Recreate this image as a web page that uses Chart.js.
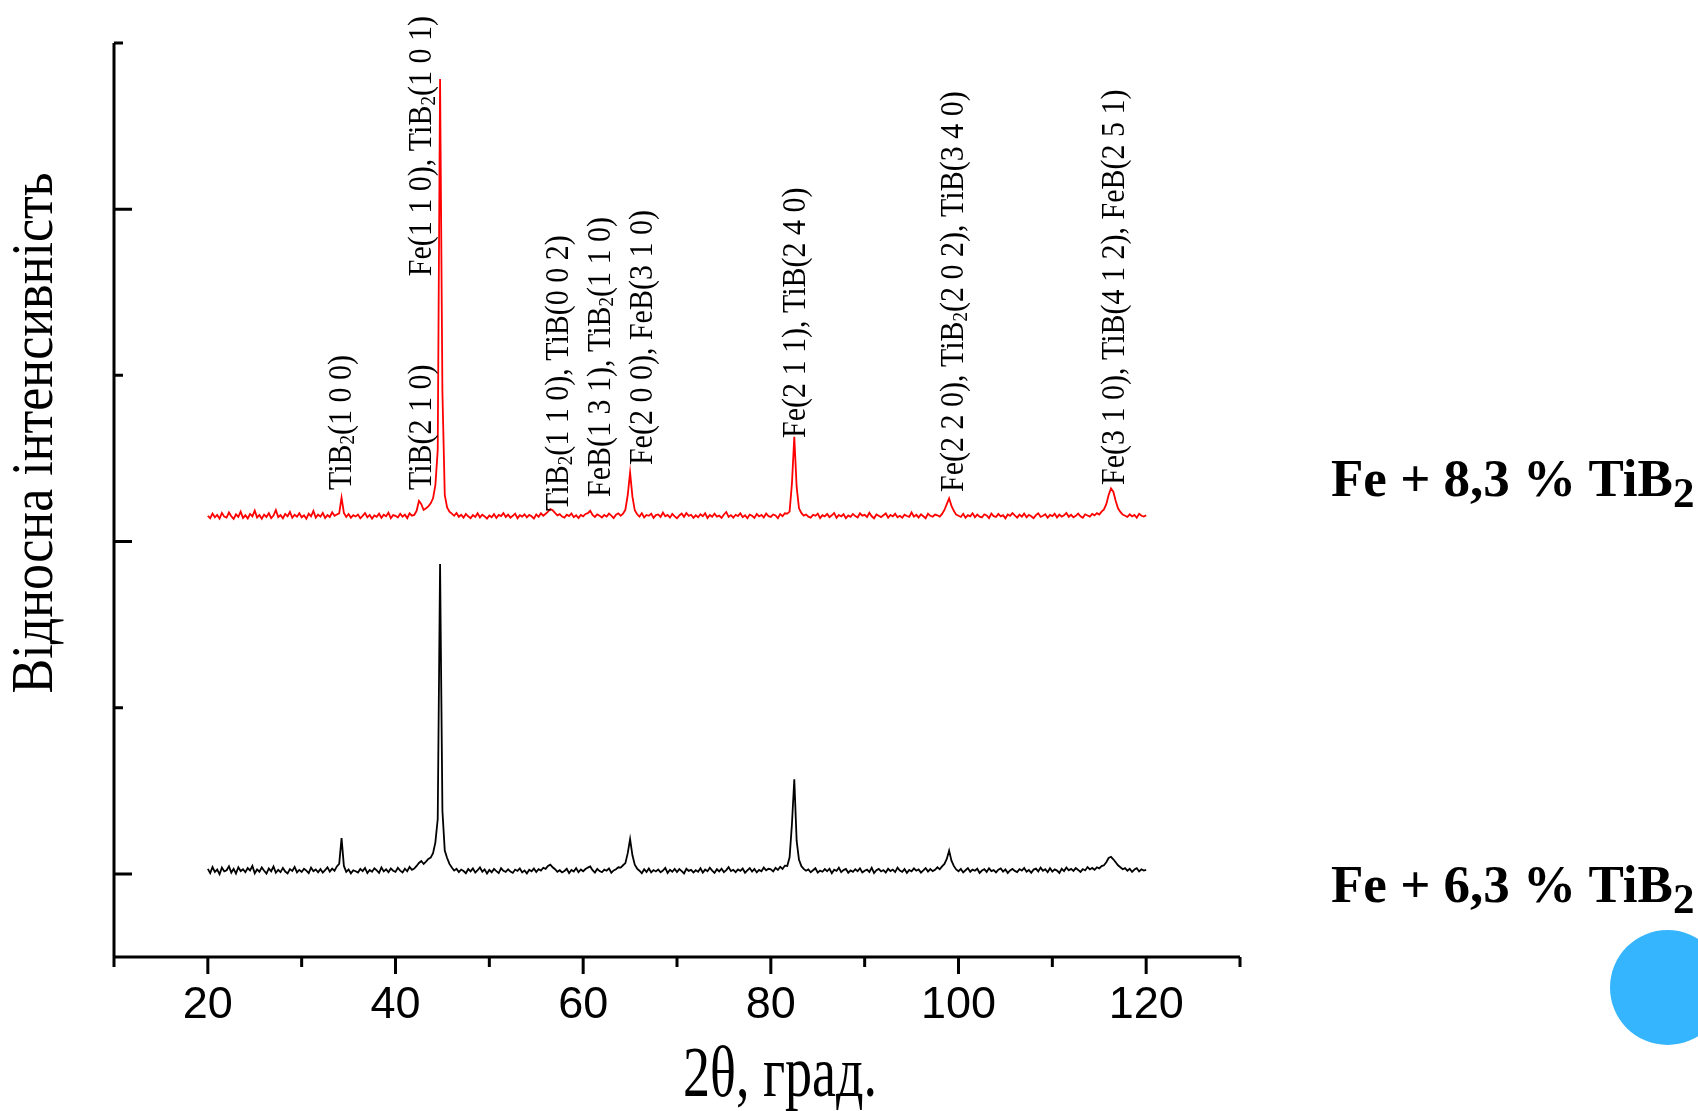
<!DOCTYPE html>
<html>
<head>
<meta charset="utf-8">
<script src="https://cdn.jsdelivr.net/npm/chart.js@4.4.1/dist/chart.umd.min.js"></script>
<style>
  html, body { margin: 0; padding: 0; background: #fff; }
  #wrap { position: relative; width: 1698px; height: 1111px; overflow: hidden; }
  #xrd { position: absolute; left: 0; top: 0; }
  .sample { position: absolute; left: 1331px; font: bold 53px "Liberation Serif", "Times New Roman", serif; line-height: 53px; white-space: nowrap; color: #000; }
  .sample sub { font-size: 43px; vertical-align: -11px; line-height: 0; }
  #dot { position: absolute; left: 1610px; top: 930px; width: 115px; height: 115px; border-radius: 50%; background: #35b5fd; }
</style>
</head>
<body>
<div id="wrap">
  <canvas id="xrd" width="1698" height="1111"></canvas>
  <div id="dot"></div>
</div>
<script>
// 2theta scan, deg (one row = 2 deg)
const angle = [
  20,20.25,20.5,20.75,21,21.25,21.5,21.75,
  22,22.25,22.5,22.75,23,23.25,23.5,23.75,
  24,24.25,24.5,24.75,25,25.25,25.5,25.75,
  26,26.25,26.5,26.75,27,27.25,27.5,27.75,
  28,28.25,28.5,28.75,29,29.25,29.5,29.75,
  30,30.25,30.5,30.75,31,31.25,31.5,31.75,
  32,32.25,32.5,32.75,33,33.25,33.5,33.75,
  34,34.25,34.5,34.75,35,35.25,35.5,35.75,
  36,36.25,36.5,36.75,37,37.25,37.5,37.75,
  38,38.25,38.5,38.75,39,39.25,39.5,39.75,
  40,40.25,40.5,40.75,41,41.25,41.5,41.75,
  42,42.25,42.5,42.75,43,43.25,43.5,43.75,
  44,44.25,44.5,44.75,45,45.25,45.5,45.75,
  46,46.25,46.5,46.75,47,47.25,47.5,47.75,
  48,48.25,48.5,48.75,49,49.25,49.5,49.75,
  50,50.25,50.5,50.75,51,51.25,51.5,51.75,
  52,52.25,52.5,52.75,53,53.25,53.5,53.75,
  54,54.25,54.5,54.75,55,55.25,55.5,55.75,
  56,56.25,56.5,56.75,57,57.25,57.5,57.75,
  58,58.25,58.5,58.75,59,59.25,59.5,59.75,
  60,60.25,60.5,60.75,61,61.25,61.5,61.75,
  62,62.25,62.5,62.75,63,63.25,63.5,63.75,
  64,64.25,64.5,64.75,65,65.25,65.5,65.75,
  66,66.25,66.5,66.75,67,67.25,67.5,67.75,
  68,68.25,68.5,68.75,69,69.25,69.5,69.75,
  70,70.25,70.5,70.75,71,71.25,71.5,71.75,
  72,72.25,72.5,72.75,73,73.25,73.5,73.75,
  74,74.25,74.5,74.75,75,75.25,75.5,75.75,
  76,76.25,76.5,76.75,77,77.25,77.5,77.75,
  78,78.25,78.5,78.75,79,79.25,79.5,79.75,
  80,80.25,80.5,80.75,81,81.25,81.5,81.75,
  82,82.25,82.5,82.75,83,83.25,83.5,83.75,
  84,84.25,84.5,84.75,85,85.25,85.5,85.75,
  86,86.25,86.5,86.75,87,87.25,87.5,87.75,
  88,88.25,88.5,88.75,89,89.25,89.5,89.75,
  90,90.25,90.5,90.75,91,91.25,91.5,91.75,
  92,92.25,92.5,92.75,93,93.25,93.5,93.75,
  94,94.25,94.5,94.75,95,95.25,95.5,95.75,
  96,96.25,96.5,96.75,97,97.25,97.5,97.75,
  98,98.25,98.5,98.75,99,99.25,99.5,99.75,
  100,100.25,100.5,100.75,101,101.25,101.5,101.75,
  102,102.25,102.5,102.75,103,103.25,103.5,103.75,
  104,104.25,104.5,104.75,105,105.25,105.5,105.75,
  106,106.25,106.5,106.75,107,107.25,107.5,107.75,
  108,108.25,108.5,108.75,109,109.25,109.5,109.75,
  110,110.25,110.5,110.75,111,111.25,111.5,111.75,
  112,112.25,112.5,112.75,113,113.25,113.5,113.75,
  114,114.25,114.5,114.75,115,115.25,115.5,115.75,
  116,116.25,116.5,116.75,117,117.25,117.5,117.75,
  118,118.25,118.5,118.75,119,119.25,119.5,119.75,
  120
]

// Fe + 8,3 % TiB2 (red, shifted up)
const fe83 = [
  2655,2640,2668,2646,2660,2638,2672,2650,
  2644,2675,2652,2636,2664,2648,2680,2642,
  2658,2639,2666,2651,2686,2645,2660,2637,
  2662,2648,2671,2641,2656,2690,2647,2659,
  2640,2666,2652,2678,2643,2661,2649,2670,
  2646,2658,2637,2668,2652,2684,2644,2662,
  2650,2672,2641,2660,2648,2676,2655,2663,
  2670,2765,2672,2648,2666,2643,2659,2651,
  2662,2640,2655,2671,2646,2660,2638,2657,
  2649,2668,2643,2661,2652,2674,2640,2659,
  2655,2645,2667,2650,2662,2641,2670,2656,
  2660,2685,2745,2725,2690,2700,2712,2730,
  2760,2840,3050,5283,3400,2780,2705,2680,
  2668,2655,2672,2649,2661,2644,2666,2652,
  2640,2659,2648,2670,2645,2662,2651,2638,
  2657,2646,2665,2642,2660,2653,2671,2648,
  2662,2644,2655,2668,2640,2659,2650,2664,
  2646,2660,2652,2638,2663,2649,2670,2655,
  2667,2680,2695,2688,2672,2658,2665,2650,
  2644,2662,2653,2669,2647,2658,2641,2660,
  2652,2666,2671,2685,2660,2648,2663,2655,
  2645,2660,2650,2668,2656,2641,2662,2670,
  2655,2668,2692,2780,2915,2770,2688,2664,
  2650,2671,2645,2660,2655,2668,2642,2659,
  2663,2648,2675,2652,2660,2644,2666,2651,
  2640,2657,2668,2649,2672,2655,2661,2643,
  2658,2646,2664,2652,2670,2641,2660,2649,
  2667,2650,2656,2642,2663,2678,2648,2659,
  2644,2661,2653,2670,2647,2658,2640,2662,
  2655,2642,2666,2651,2660,2645,2669,2653,
  2648,2663,2657,2640,2665,2652,2670,2668,
  2680,2850,3130,2830,2700,2672,2656,2663,
  2650,2644,2661,2655,2668,2641,2659,2652,
  2666,2647,2658,2672,2643,2660,2651,2664,
  2640,2657,2649,2666,2653,2645,2670,2656,
  2661,2648,2673,2652,2640,2663,2655,2647,
  2658,2669,2644,2660,2651,2667,2646,2655,
  2643,2662,2654,2648,2675,2650,2661,2645,
  2664,2652,2640,2668,2655,2649,2662,2658,
  2650,2666,2690,2725,2760,2715,2685,2662,
  2655,2648,2667,2643,2659,2652,2670,2646,
  2662,2650,2645,2664,2657,2641,2668,2653,
  2648,2666,2652,2659,2640,2663,2655,2671,
  2657,2644,2662,2650,2668,2646,2661,2652,
  2640,2659,2670,2648,2655,2664,2643,2660,
  2653,2667,2645,2662,2650,2658,2672,2649,
  2661,2646,2655,2668,2652,2643,2664,2657,
  2650,2666,2658,2671,2662,2680,2693,2725,
  2780,2820,2800,2745,2700,2678,2662,2655,
  2648,2664,2651,2660,2643,2667,2655,2650,
  2658
]

// Fe + 6,3 % TiB2 (black)
const fe63 = [
  530,505,541,512,526,498,538,515,
  522,546,508,531,502,540,517,528,
  510,535,521,548,504,527,513,539,
  519,502,533,516,544,507,525,511,
  536,514,503,529,518,542,509,524,
  512,531,520,505,538,516,527,510,
  529,508,523,540,514,532,519,545,
  560,715,548,512,527,503,522,516,
  508,530,517,536,505,524,513,534,
  521,506,539,515,528,510,533,519,
  512,537,520,509,531,516,542,525,
  532,548,566,578,560,574,590,598,
  625,690,830,2365,880,640,596,560,
  538,520,531,511,526,517,504,529,
  515,533,508,522,539,513,527,502,
  524,510,530,517,505,535,519,512,
  528,514,506,526,518,533,509,521,
  503,525,516,532,511,528,520,537,
  530,548,556,540,528,513,522,509,
  518,531,505,524,514,535,510,527,
  516,529,538,545,522,508,530,517,
  510,526,519,533,507,521,528,540,
  538,552,565,625,710,612,555,532,
  519,504,528,512,533,509,523,515,
  527,510,520,536,506,525,513,530,
  511,529,517,503,531,518,524,509,
  522,513,534,508,526,516,537,520,
  506,528,515,531,510,523,541,517,
  525,511,527,518,532,507,521,535,
  514,530,509,524,516,538,522,531,
  528,515,536,524,543,530,550,548,
  600,800,1070,700,585,548,530,519,
  527,510,522,534,508,520,513,529,
  516,531,504,525,518,537,511,523,
  530,507,521,513,528,516,534,509,
  519,526,512,537,505,522,530,515,
  523,508,531,517,526,511,538,520,
  512,529,506,524,515,533,519,527,
  508,521,535,514,529,517,525,540,
  528,545,560,590,640,580,548,527,
  516,530,509,522,535,513,526,519,
  531,506,520,528,512,534,517,523,
  509,525,533,514,527,505,521,530,
  518,511,529,520,536,513,524,507,
  526,532,515,538,519,528,510,534,
  514,527,520,506,531,517,539,522,
  530,518,535,524,512,529,521,541,
  527,536,525,540,533,547,552,570,
  596,603,588,570,552,540,528,535,
  519,531,512,526,534,515,528,520,
  524
]

const seriesNames = ['Fe + 8,3 % TiB₂', 'Fe + 6,3 % TiB₂']
const seriesColors = ['#ff0000', '#000000']

const xTickLabels = [20, 40, 60, 80, 100, 120]
const xMajorTicks = [20, 40, 60, 80, 100, 120]
const xMinorTicks = [10, 30, 50, 70, 90, 110, 130]
const yMajorTicks = [500, 2500, 4500]
const yMinorTicks = [1500, 3500, 5500]

// reflection labels: angle of the column, intensity where the text starts
const peakLabelText = [
  'TiB₂(1 0 0)',
  'TiB(2 1 0)',
  'Fe(1 1 0), TiB₂(1 0 1)',
  'TiB₂(1 1 0), TiB(0 0 2)',
  'FeB(1 3 1), TiB₂(1 1 0)',
  'Fe(2 0 0), FeB(3 1 0)',
  'Fe(2 1 1), TiB(2 4 0)',
  'Fe(2 2 0), TiB₂(2 0 2), TiB(3 4 0)',
  'Fe(3 1 0), TiB(4 1 2), FeB(2 5 1)'
]
const peakLabelAngle = [34.0, 42.6, 42.6, 57.2, 61.6, 66.1, 82.4, 99.3, 116.4]
const peakLabelStart = [2810, 2810, 4097, 2684, 2768, 2960, 3123, 2798, 2840]

const SERIF = '"Liberation Serif", "Times New Roman", serif'

// text with ₂ drawn as a real subscript
function drawChem(ctx, text, size, x0, y0) {
  var parts = text.split('₂')
  var cx = x0
  parts.forEach(function (p, k) {
    ctx.font = size + 'px ' + SERIF
    ctx.fillText(p, cx, y0)
    cx += ctx.measureText(p).width
    if (k < parts.length - 1) {
      ctx.font = Math.round(size * 0.62) + 'px ' + SERIF
      ctx.fillText('2', cx, y0 + size * 0.1)
      cx += ctx.measureText('2').width
    }
  })
}

const axesPlugin = {
  id: 'origin_axes',
  afterDatasetsDraw(chart) {
    const {ctx, scales: {x, y}} = chart
    const x0 = x.getPixelForValue(10), x1 = x.getPixelForValue(130)
    const y0 = y.getPixelForValue(0), y1 = y.getPixelForValue(5500)
    ctx.save()
    ctx.strokeStyle = '#000'
    ctx.lineWidth = 3
    ctx.beginPath()
    ctx.moveTo(x0, y1); ctx.lineTo(x0, y0); ctx.lineTo(x1, y0)
    xMajorTicks.forEach(v => { const p = x.getPixelForValue(v); ctx.moveTo(p, y0); ctx.lineTo(p, y0 + 17) })
    xMinorTicks.forEach(v => { const p = x.getPixelForValue(v); ctx.moveTo(p, y0); ctx.lineTo(p, y0 + 10) })
    yMajorTicks.forEach(v => { const p = y.getPixelForValue(v); ctx.moveTo(x0, p); ctx.lineTo(x0 + 18, p) })
    yMinorTicks.forEach(v => { const p = y.getPixelForValue(v); ctx.moveTo(x0, p); ctx.lineTo(x0 + 9, p) })
    ctx.stroke()
    ctx.restore()
  }
}

const labelPlugin = {
  id: 'peak_labels',
  afterDraw(chart) {
    const {ctx, scales: {x, y}, chartArea} = chart
    ctx.save()
    ctx.fillStyle = '#000'
    ctx.textAlign = 'left'
    ctx.textBaseline = 'alphabetic'
    peakLabelText.forEach(function (txt, i) {
      ctx.save()
      ctx.translate(x.getPixelForValue(peakLabelAngle[i]), y.getPixelForValue(peakLabelStart[i]))
      ctx.rotate(-Math.PI / 2)
      ctx.scale(1, 1.15)
      drawChem(ctx, txt, 30, 0, 10)
      ctx.restore()
    })

    // y axis title
    ctx.save()
    ctx.translate(chartArea.left - 62, chartArea.top + 390)
    ctx.rotate(-Math.PI / 2)
    ctx.scale(1, 1.12)
    ctx.textAlign = 'center'
    ctx.font = '52px ' + SERIF
    ctx.fillText('Відносна інтенсивність', 0, 0)
    ctx.restore()

    // x axis title
    ctx.save()
    ctx.translate(780, chartArea.bottom + 139)
    ctx.scale(0.9, 1.2)
    ctx.textAlign = 'center'
    ctx.font = '60px ' + SERIF
    ctx.fillText('2θ, град.', 0, 0)
    ctx.restore()
    ctx.restore()
  }
}

const datasets = [fe83, fe63].map(function (vals, k) {
  return {
    label: seriesNames[k],
    data: angle.map((a, i) => ({x: a, y: vals[i]})),
    borderColor: seriesColors[k],
    borderWidth: 1.8,
    pointRadius: 0,
    tension: 0,
    fill: false
  }
})

new Chart(document.getElementById('xrd'), {
  type: 'line',
  data: {datasets: datasets},
  options: {
    responsive: false,
    animation: false,
    layout: {padding: {left: 0, right: 458, top: 43, bottom: 0}},
    plugins: {legend: {display: false}, tooltip: {enabled: false}},
    scales: {
      x: {
        type: 'linear', min: 10, max: 130,
        grid: {display: false, drawTicks: false},
        border: {display: false},
        ticks: {
          stepSize: 10, autoSkip: false, maxRotation: 0, padding: 22, color: '#000',
          font: {family: '"Liberation Sans", Arial, sans-serif', size: 45},
          callback: v => xTickLabels.includes(v) ? String(v) : ''
        },
        afterFit: s => { s.height = 154 }
      },
      y: {
        min: 0, max: 5500,
        grid: {display: false, drawTicks: false},
        border: {display: false},
        ticks: {display: false},
        afterFit: s => { s.width = 114 }
      }
    }
  },
  plugins: [axesPlugin, labelPlugin]
})

// sample names next to each pattern
const sampleTop = [452, 858]
seriesNames.forEach(function (name, k) {
  var d = document.createElement('div')
  d.className = 'sample'
  d.style.top = sampleTop[k] + 'px'
  d.innerHTML = name.replace('₂', '<sub>2</sub>')
  document.getElementById('wrap').appendChild(d)
})
</script>
</body>
</html>
